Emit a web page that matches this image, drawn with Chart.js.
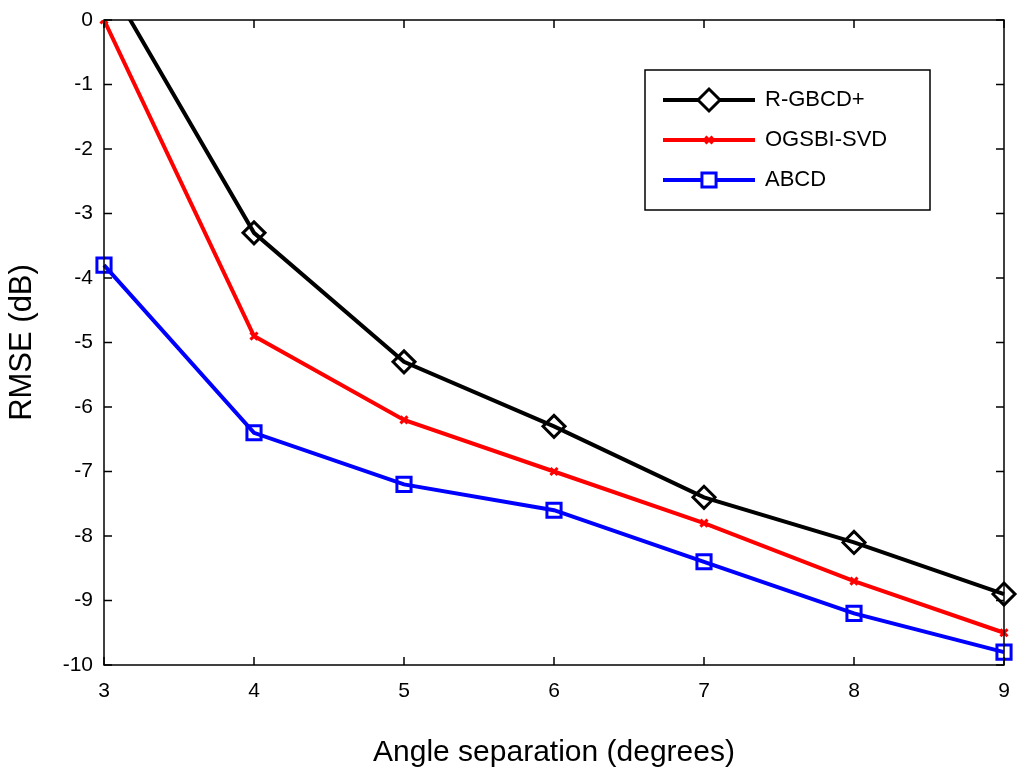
<!DOCTYPE html>
<html><head><meta charset="utf-8">
<script src="https://cdn.jsdelivr.net/npm/chart.js@4"></script>
<style>html,body{margin:0;background:#fff}#c{display:block}</style>
</head><body>
<canvas id="c" width="1024" height="775"></canvas>
<script>
const angles = [3, 4, 5, 6, 7, 8, 9]
const rgbcd = [0.7, -3.3, -5.3, -6.3, -7.4, -8.1, -8.9]
const ogsbi = [0, -4.9, -6.2, -7.0, -7.8, -8.7, -9.5]
const abcd = [-3.8, -6.4, -7.2, -7.6, -8.4, -9.2, -9.8]
const names = ["R-GBCD+", "OGSBI-SVD", "ABCD"]

const pts = ys => angles.map((x, i) => ({ x, y: ys[i] }))

const boxPlugin = {
  id: "box",
  afterDraw(chart) {
    const { ctx, chartArea: a, scales } = chart
    ctx.save()
    ctx.strokeStyle = "#000"
    ctx.lineWidth = 1.5
    ctx.strokeRect(a.left, a.top, a.right - a.left, a.bottom - a.top)
    for (let x = 3; x <= 9; x++) {
      const px = scales.x.getPixelForValue(x)
      ctx.beginPath(); ctx.moveTo(px, a.bottom); ctx.lineTo(px, a.bottom - 8)
      ctx.moveTo(px, a.top); ctx.lineTo(px, a.top + 8); ctx.stroke()
    }
    for (let y = -10; y <= 0; y++) {
      const py = scales.y.getPixelForValue(y)
      ctx.beginPath(); ctx.moveTo(a.left, py); ctx.lineTo(a.left + 8, py)
      ctx.moveTo(a.right, py); ctx.lineTo(a.right - 8, py); ctx.stroke()
    }
    // legend
    const lx = 645, ly = 70, lw = 285, lh = 140
    ctx.fillStyle = "#fff"
    ctx.fillRect(lx, ly, lw, lh)
    ctx.strokeRect(lx, ly, lw, lh)
    ctx.font = "22px Arial, 'Liberation Sans'"
    ctx.textBaseline = "middle"
    chart.data.datasets.forEach((ds, i) => {
      const yy = ly + 30 + i * 40
      ctx.strokeStyle = ds.borderColor
      ctx.lineWidth = 4
      ctx.beginPath(); ctx.moveTo(lx + 18, yy); ctx.lineTo(lx + 110, yy); ctx.stroke()
      ctx.fillStyle = "#fff"
      ctx.lineWidth = 3
      Chart.helpers.drawPoint(ctx, {
        pointStyle: ds.pointStyle, radius: ds.pointRadius, borderWidth: 3
      }, lx + 64, yy)
      ctx.fillStyle = "#000"
      ctx.fillText(ds.label, lx + 120, yy)
    })
    ctx.restore()
  }
}

function ds(label, data, color, style, r) {
  return {
    label, data: pts(data), borderColor: color, backgroundColor: "#fff",
    borderWidth: 4, pointStyle: style, pointRadius: r, pointBorderWidth: 3,
    pointBorderColor: color, pointBackgroundColor: "rgba(255,255,255,0)", tension: 0,
    clip: { left: 15, right: 15, top: 0, bottom: 15 }
  }
}

new Chart(document.getElementById("c"), {
  type: "line",
  data: {
    datasets: [
      ds(names[0], rgbcd, "#000", "rectRot", 11),
      ds(names[1], ogsbi, "#ff0000", "crossRot", 5),
      ds(names[2], abcd, "#0000ff", "rect", 10)
    ]
  },
  options: {
    responsive: false, animation: false,
    layout: { padding: { top: 20, right: 20, left: 0, bottom: 0 } },
    plugins: { legend: { display: false }, tooltip: { enabled: false } },
    scales: {
      x: {
        type: "linear", min: 3, max: 9,
        afterFit(s) { s.height = 110 },
        ticks: { stepSize: 1, color: "#000", padding: 6, font: { size: 21, family: "Arial" } },
        grid: { display: false }, border: { display: false },
        title: { display: true, text: "Angle separation (degrees)", color: "#000", padding: { top: 14 }, font: { size: 30, family: "Arial" } }
      },
      y: {
        min: -10, max: 0,
        afterFit(s) { s.width = 104 },
        ticks: { stepSize: 1, color: "#000", font: { size: 21, family: "Arial" } },
        grid: { display: false }, border: { display: false },
        title: { display: true, text: "RMSE (dB)", color: "#000", font: { size: 31, family: "Arial" } }
      }
    }
  },
  plugins: [boxPlugin]
})
</script>
</body></html>
